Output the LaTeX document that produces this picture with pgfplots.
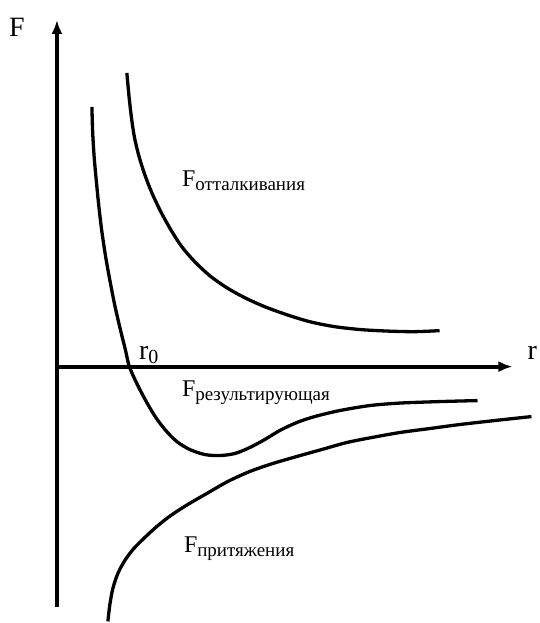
\documentclass[border=0pt]{standalone}
\usepackage{fontspec}
\setmainfont{Liberation Serif}
\usepackage{pgfplots}
\pgfplotsset{compat=1.18}
\usetikzlibrary{arrows.meta}
\begin{document}
\begin{tikzpicture}
\begin{axis}[
  scale only axis, width=540pt, height=623pt,
  xmin=0, xmax=540, ymin=0, ymax=623, y dir=reverse,
  hide axis, clip=false,
]
\addplot[draw=none] coordinates {(0,0) (540,623)};
% axes
\addplot[line width=3.8pt, -{Latex[length=14pt,width=11pt]}] coordinates {(57,608) (57,20)};
\addplot[line width=3.8pt, -{Latex[length=14pt,width=11pt]}] coordinates {(57,367) (513,367)};
% repulsion
\addplot[line width=3.3pt, smooth, tension=0.5] coordinates {
(127,73) (129,95) (131.5,117) (134.5,137) (139,156) (145,175) (152,193) (161,212) (171,230)
(182,247) (195,262) (210,276) (227,288) (245,298) (265,307) (287,315) (310,322) (335,327)
(362,330) (390,331.5) (415,332) (440,331)};
% resultant
\addplot[line width=3.3pt, smooth, tension=0.5] coordinates {
(92,107) (92.75,132) (94.25,157) (96.5,182) (99,207) (102,232) (105.75,257) (110.25,282)
(115.2,307) (121,332) (125.5,350) (129.5,367) (137.5,385) (147,403) (156,418) (166,431)
(177,442) (190,450) (205,455) (220,456) (235,454) (250,448) (265,440) (280,431) (297,423)
(315,417) (340,411) (370,406) (400,403.5) (440,402) (478,401)};
% attraction
\addplot[line width=3.3pt, smooth, tension=0.5] coordinates {
(108,622) (110,605) (113,589) (118,574) (125,561) (134,549) (145,538) (157,527) (171,516)
(188,505) (207,494) (228,482) (250,472) (273,464) (297,457) (322,450) (347,443) (372,438)
(400,433) (430,429) (460,425) (495,421) (532,417)};
% labels
\node[anchor=base west, inner sep=0pt, font=\fontsize{28}{30}\selectfont] at (axis cs:9,37) {F};
\node[anchor=base west, inner sep=0pt, font=\fontsize{28}{30}\selectfont] at (axis cs:528,360) {r};
\node[anchor=base west, inner sep=0pt, font=\fontsize{28}{30}\selectfont] at (axis cs:139,360) {r\raisebox{-4pt}{\fontsize{20}{22}\selectfont 0}};
\node[anchor=base west, inner sep=0pt, font=\fontsize{24}{26}\selectfont] at (axis cs:182,187) {F\raisebox{-4pt}{\fontsize{19}{21}\selectfont отталкивания}};
\node[anchor=base west, inner sep=0pt, font=\fontsize{24}{26}\selectfont] at (axis cs:182,397) {F\raisebox{-4pt}{\fontsize{19}{21}\selectfont результирующая}};
\node[anchor=base west, inner sep=0pt, font=\fontsize{24}{26}\selectfont] at (axis cs:184,553) {F\raisebox{-4pt}{\fontsize{19}{21}\selectfont притяжения}};
\end{axis}
\end{tikzpicture}
\end{document}
